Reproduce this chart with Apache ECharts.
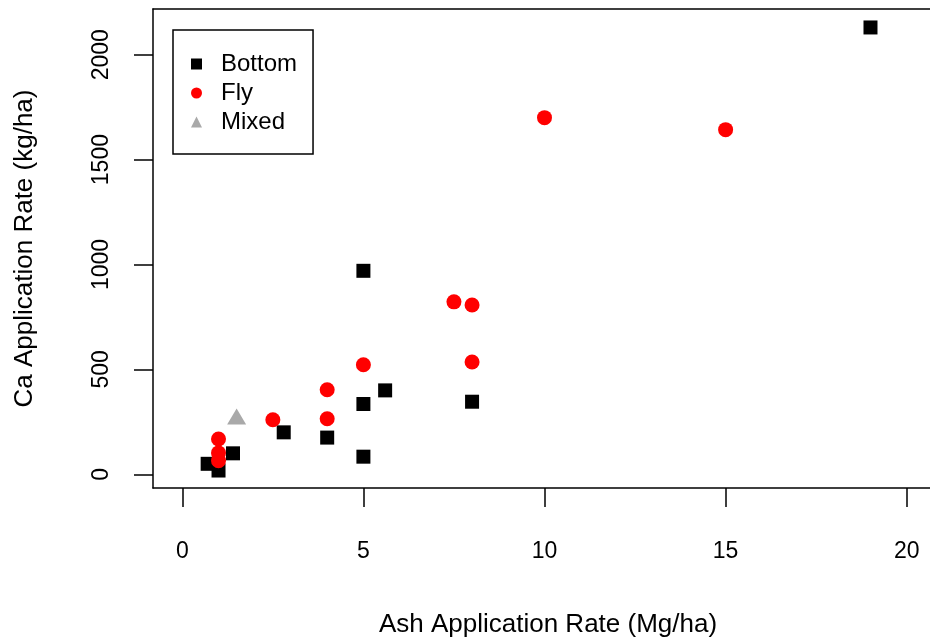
<!DOCTYPE html>
<html>
<head>
<meta charset="utf-8">
<script src="https://cdn.jsdelivr.net/npm/echarts@6/dist/echarts.min.js"></script>
<style>
  html, body { margin: 0; padding: 0; background: #fff; }
  #chart-panel { width: 930px; height: 641px; }
</style>
</head>
<body>
<div id="chart-panel"></div>
<script>
// data: [ash rate Mg/ha, Ca rate kg/ha]
const bottomPts = [
  [0.7, 50], [1, 18], [1.4, 100], [2.8, 200], [4, 175], [5, 84],
  [5, 335], [5, 970], [5.6, 400], [8, 346], [19, 2130]
]
const flyPts = [
  [1, 168], [1, 102], [1, 65], [2.5, 260], [4, 403], [4, 265],
  [5, 522], [7.5, 822], [8, 807], [8, 535], [10, 1700], [15, 1643]
]
const mixedPts = [[1.5, 275]]
const xTicks = [0, 5, 10, 15, 20]
const yTicks = [0, 500, 1000, 1500, 2000]

const font = "Liberation Sans, Arial, sans-serif"
const chart = echarts.init(document.getElementById("chart-panel"), null, { renderer: "canvas" })

const xMin = -0.809
const xMax = 20.643 // plot box runs off the right edge, so no right border
const black = { color: "#000", width: 1.5 }

const options = {
  animation: false,
  backgroundColor: "#fff",
  grid: {
    left: 153,
    top: 9,
    right: 0,
    bottom: 153,
    outerBoundsMode: "none",
    show: false
  },
  legend: {
    orient: "vertical",
    left: 173,
    top: 30,
    padding: [22, 16, 20, 18],
    itemGap: 5,
    itemWidth: 11,
    itemHeight: 11,
    borderColor: "#000",
    borderWidth: 1.5,
    textStyle: {
      color: "#000",
      fontSize: 24,
      lineHeight: 23,
      fontFamily: font,
      padding: [0, 0, 0, 14]
    },
    data: ["Bottom", "Fly", "Mixed"]
  },
  xAxis: [
    {
      type: "value",
      min: xMin,
      max: xMax,
      splitLine: { show: false },
      axisLine: { show: true, onZero: false, lineStyle: black },
      name: "Ash Application Rate (Mg/ha)",
      nameLocation: "middle",
      nameGap: 124,
      nameTextStyle: { color: "#000", fontSize: 26, fontFamily: font, padding: [0, 0, 0, 13] },
      axisTick: { show: true, customValues: xTicks, length: 19, lineStyle: black },
      axisLabel: {
        customValues: xTicks,
        color: "#000",
        fontSize: 23,
        fontFamily: font,
        margin: 52,
        formatter: (v) => String(v)
      }
    },
    {
      // top edge of the box
      type: "value",
      position: "top",
      min: xMin,
      max: xMax,
      splitLine: { show: false },
      axisLine: { show: true, onZero: false, lineStyle: black },
      axisTick: { show: false },
      axisLabel: { show: false }
    }
  ],
  yAxis: {
    type: "value",
    min: -65.3,
    max: 2218,
    splitLine: { show: false },
    axisLine: { show: true, onZero: false, lineStyle: black },
    name: "Ca Application Rate (kg/ha)",
    nameLocation: "middle",
    nameGap: 115,
    nameRotate: 90,
    nameTextStyle: { color: "#000", fontSize: 26, fontFamily: font },
    axisTick: { show: true, customValues: yTicks, length: 19, lineStyle: black },
    axisLabel: {
      customValues: yTicks,
      color: "#000",
      fontSize: 23,
      fontFamily: font,
      margin: 40,
      rotate: 90,
      formatter: (v) => String(v)
    }
  },
  series: [
    {
      name: "Bottom",
      type: "scatter",
      symbol: "rect",
      symbolSize: 14,
      itemStyle: { color: "#000", opacity: 1 },
      data: bottomPts,
      z: 2
    },
    {
      name: "Fly",
      type: "scatter",
      symbol: "circle",
      symbolSize: 15,
      itemStyle: { color: "#ff0000", opacity: 1 },
      data: flyPts,
      z: 3
    },
    {
      name: "Mixed",
      type: "scatter",
      symbol: "triangle",
      symbolSize: [19, 16],
      itemStyle: { color: "#a9a9a9", opacity: 1 },
      data: mixedPts,
      z: 4
    }
  ]
}
chart.setOption(options)
</script>
</body>
</html>
